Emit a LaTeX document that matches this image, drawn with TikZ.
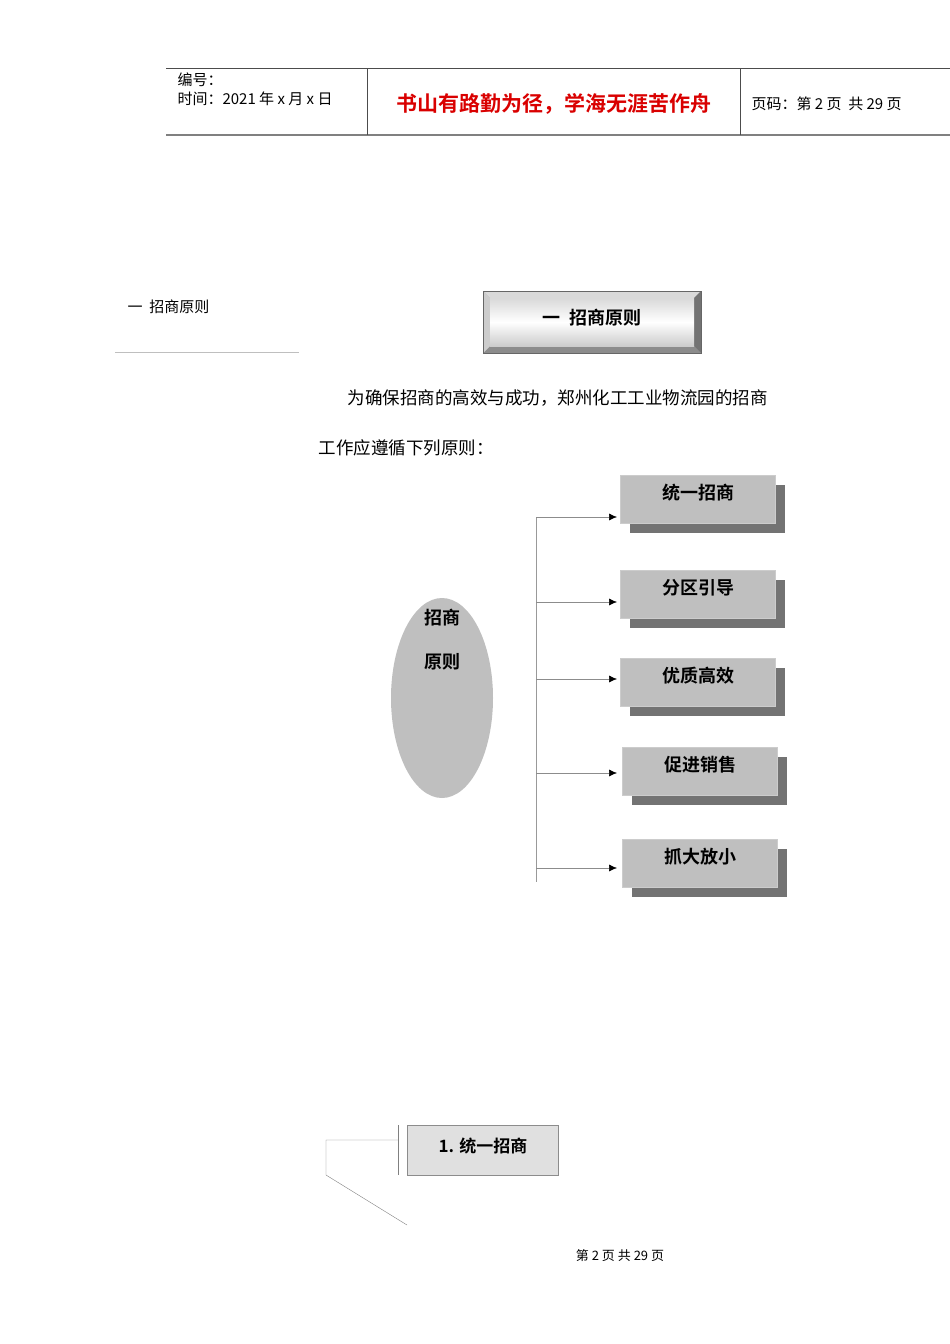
\documentclass[tikz,border=0pt]{standalone}
\usepackage{fontspec}
\setmainfont{Noto Sans CJK SC}
\newfontfamily\cjkb{Noto Sans CJK SC Bold}
\begin{document}
\begin{tikzpicture}[x=1pt,y=-1pt,
  rbox/.style={fill=black!25,draw=black!20,minimum width=155pt,minimum height=48pt,anchor=north west,inner sep=0pt,text depth=0pt},
  arr/.style={draw=black!45,line width=0.5pt,-{Latex[length=8pt,width=7pt,color=black]}},
  lbl/.style={font=\cjkb\fontsize{18}{18}\selectfont}]
\usetikzlibrary{arrows.meta}
\useasboundingbox (0,0) rectangle (950,1344);
% header
\draw[black!70,line width=0.8pt] (166,68) -- (950,68);
\draw[black!50,line width=1.5pt] (166,135) -- (950,135);
\draw[black!70,line width=0.8pt] (367,68) -- (367,135) (740,68) -- (740,135);
\node[anchor=west,font=\fontsize{15}{15}\selectfont] (h1) at (174,80) {编号：};
\node[anchor=west,font=\fontsize{15}{15}\selectfont] (h2) at (174,99) {时间：2021 年 x 月 x 日};
\node[font=\cjkb\fontsize{21}{21}\selectfont,text=red!85!black] (h3) at (554,104) {书山有路勤为径，学海无涯苦作舟};
\node[anchor=west,font=\fontsize{15}{15}\selectfont] (h4) at (748,104) {页码：第 2 页\ \ 共 29 页};
% left heading
\node[anchor=west,font=\fontsize{15}{15}\selectfont] (lh) at (124,307) {一\ \ 招商原则};
\draw[black!25] (115,352) -- (299,352);
% bevel title box
\fill[black!30] (483,291) rectangle (701,353);
\fill[black!15] (483,291) -- (701,291) -- (694,298) -- (490,298) -- cycle;
\fill[black!45] (483,353) -- (701,353) -- (694,346) -- (490,346) -- cycle;
\fill[black!55] (701,291) -- (701,353) -- (694,346) -- (694,298) -- cycle;
\fill[black!20] (483,291) -- (483,353) -- (490,346) -- (490,298) -- cycle;
\shade[top color=black!15,bottom color=black!20,middle color=white] (490,298) rectangle (694,346);
\draw[black!60] (483,291) rectangle (701,353);
\node[font=\cjkb\fontsize{18}{18}\selectfont] (tt) at (592,318) {一\ \ 招商原则};
% paragraph
\node[anchor=west,font=\fontsize{17.5}{17.5}\selectfont] (p1) at (344,398) {为确保招商的高效与成功，郑州化工工业物流园的招商};
\node[anchor=west,font=\fontsize{17.5}{17.5}\selectfont] (p2) at (315,448) {工作应遵循下列原则：};
% ellipse
\fill[black!25] (442,698) ellipse [x radius=51,y radius=100];
\node[lbl] (e1) at (442,618) {招商};
\node[lbl] (e2) at (442,662) {原则};
% trunk
\coordinate (t0) at (536,517);
\coordinate (t5) at (536,882);
\draw[black!40] (t0) -- (t5);
\foreach \n/\x/\y/\ay/\t in {a/620/475/517/统一招商,b/620/570/602/分区引导,c/620/658/679/优质高效,d/622/747/773/促进销售,e/622/839/868/抓大放小}{
  \fill[black!55] (\x+10,\y+10) rectangle (\x+165,\y+58);
  \node[rbox] (\n) at (\x,\y) {};
  \node[lbl] (\n t) at (\x+78,\y+18) {\t};
  \coordinate (s\n) at (536,\ay);
  \draw[arr] (s\n) -- (617,\ay);
}
% bottom
\node[draw=black!45,fill=black!12,minimum width=151pt,minimum height=50pt,anchor=north west,inner sep=0pt] (u1) at (407,1125) {};
\node[font=\cjkb\fontsize{17}{17}\selectfont] (u1t) at (483,1146) {1. 统一招商};
\coordinate (c1) at (398,1125);
\coordinate (c2) at (398,1175);
\coordinate (c3) at (326,1140);
\coordinate (c4) at (326,1175);
\coordinate (c5) at (407,1225);
\draw[black!50] (c1) -- (c2);
\draw[black!50] (398,1140) -- (c3) -- (c4) -- (c5);
\node[font=\fontsize{13}{13}\selectfont] (ft) at (620,1256) {第\ 2\ 页\ 共\ 29\ 页};
\end{tikzpicture}
\end{document}
